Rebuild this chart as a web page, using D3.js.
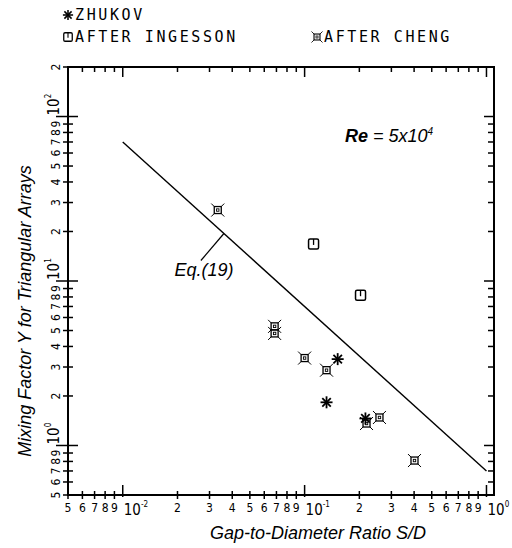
<!DOCTYPE html>
<html>
<head>
<meta charset="utf-8">
<script src="https://cdn.jsdelivr.net/npm/d3@7"></script>
<style>
  body { margin: 0; background: #fff; }
  svg { display: block; }
  .tk { font-family: "DejaVu Sans Condensed", "DejaVu Sans", sans-serif; font-size: 12px; fill: #000; }
  .legend { font-family: "DejaVu Sans Mono", monospace; font-size: 15px; letter-spacing: 2.6px; fill: #000; }
  .title { font-family: "Liberation Sans", Arial, sans-serif; font-style: italic; font-size: 18px; fill: #000; }
</style>
</head>
<body>
<div id="chart"></div>
<script>
// Данные (S/D, Y)
const zhukovS = [0.152, 0.132, 0.216];
const zhukovY = [3.35, 1.83, 1.46];
const ingessonS = [0.112, 0.203];
const ingessonY = [16.8, 8.2];
const chengS = [0.0333, 0.0684, 0.0684, 0.100, 0.132, 0.219, 0.258, 0.402];
const chengY = [27.0, 5.3, 4.8, 3.4, 2.87, 1.36, 1.48, 0.81];
// Eq.(19): Y = 0.7 / (S/D)
const eqS = [0.01, 1.0];
const eqY = [70, 0.7];
const xDomain = [0.005, 1.1];
const yDomain = [0.5, 200];

const width = 512, height = 548;
const mLeft = 68, mRight = 494, mTop = 67, mBottom = 495;

const svg = d3.select("#chart").append("svg")
    .attr("width", width)
    .attr("height", height);

const x = d3.scaleLog().domain(xDomain).range([mLeft, mRight]);
const y = d3.scaleLog().domain(yDomain).range([mBottom, mTop]);

const mant = v => Math.round(v / Math.pow(10, Math.floor(Math.log10(v) + 1e-9)));
const isDecade = v => mant(v) === 1;
const expOf = v => Math.round(Math.log10(v));

const xt = x.ticks();
const yt = y.ticks();

const ax = svg.append("g").attr("stroke", "#000").attr("stroke-width", 1.5);

// Ticks: bottom (crossing), top (inward)
xt.forEach(v => {
    const px = x(v), big = isDecade(v);
    ax.append("line").attr("x1", px).attr("x2", px)
        .attr("y1", mBottom - (big ? 10 : 4)).attr("y2", mBottom + (big ? 2 : 4));
    ax.append("line").attr("x1", px).attr("x2", px)
        .attr("y1", mTop).attr("y2", mTop + (big ? 10 : 5));
});
// Ticks: left (crossing), right (inward)
yt.forEach(v => {
    const py = y(v), big = isDecade(v);
    ax.append("line").attr("y1", py).attr("y2", py)
        .attr("x1", mLeft - (big ? 12 : 5)).attr("x2", mLeft + (big ? 10 : 5));
    ax.append("line").attr("y1", py).attr("y2", py)
        .attr("x1", mRight - (big ? 10 : 6)).attr("x2", mRight);
});

// Frame
svg.append("rect")
    .attr("x", mLeft).attr("y", mTop)
    .attr("width", mRight - mLeft).attr("height", mBottom - mTop)
    .attr("fill", "none").attr("stroke", "#000").attr("stroke-width", 2);

// Bottom tick labels
const xl = svg.append("g").attr("class", "tk");
xt.forEach(v => {
    const px = x(v);
    if (isDecade(v)) {
        const t = xl.append("text").attr("x", px + 1).attr("y", 515)
            .attr("font-size", 15);
        t.append("tspan").text("10");
        t.append("tspan").attr("font-size", 8).attr("dy", -8).text(expOf(v));
    } else {
        xl.append("text").attr("x", px).attr("y", 512)
            .attr("text-anchor", "middle").text(mant(v));
    }
});

// Left tick labels (rotated)
const yl = svg.append("g").attr("class", "tk");
yt.forEach(v => {
    const py = y(v);
    if (isDecade(v)) {
        const t = yl.append("text")
            .attr("transform", `translate(59,${py - 1}) rotate(-90)`)
            .attr("font-size", 15);
        t.append("tspan").text("10");
        t.append("tspan").attr("font-size", 8).attr("dy", -8).text(expOf(v));
    } else {
        yl.append("text")
            .attr("transform", `translate(60,${py}) rotate(-90)`)
            .attr("text-anchor", "middle").text(mant(v));
    }
});

// Eq.(19) line
const eqData = eqS.map((s, i) => ({ s, y: eqY[i] }));
const line = d3.line().x(d => x(d.s)).y(d => y(d.y));
svg.append("path").datum(eqData)
    .attr("d", line)
    .attr("fill", "none").attr("stroke", "#000").attr("stroke-width", 1.4);

// Leader and label for Eq.(19)
const ls = 0.036, lx = x(ls), ly = y(0.7 / ls);
svg.append("line").attr("x1", lx).attr("y1", ly).attr("x2", lx - 23).attr("y2", ly + 27)
    .attr("stroke", "#000").attr("stroke-width", 1.2);
svg.append("text").attr("class", "title").attr("x", lx - 20).attr("y", ly + 43)
    .attr("text-anchor", "middle").attr("font-size", 16).text("Eq.(19)");

// Re label
const re = svg.append("text").attr("class", "title").attr("x", 345).attr("y", 142)
    .attr("font-size", 17);
re.append("tspan").attr("font-weight", "bold").text("Re");
re.append("tspan").text(" = 5x10");
re.append("tspan").attr("font-size", 10).attr("dy", -7).text("4");

// Markers
function drawZhukov(g) {
    [0, 45, 90, 135].forEach(a => {
        const r = 6, c = Math.cos(a * Math.PI / 180) * r, s = Math.sin(a * Math.PI / 180) * r;
        g.append("line").attr("x1", -c).attr("y1", -s).attr("x2", c).attr("y2", s)
            .attr("stroke", "#000").attr("stroke-width", 1.8);
    });
}
function drawIngesson(g) {
    g.append("rect").attr("x", -5).attr("y", -5).attr("width", 10).attr("height", 10)
        .attr("rx", 1.5).attr("fill", "#fff").attr("stroke", "#000").attr("stroke-width", 1.5);
    g.append("line").attr("x1", 0).attr("y1", -5).attr("x2", 0).attr("y2", 1)
        .attr("stroke", "#000").attr("stroke-width", 1.3);
}
function drawCheng(g) {
    g.append("rect").attr("x", -3.5).attr("y", -3.5).attr("width", 7).attr("height", 7)
        .attr("fill", "none").attr("stroke", "#000").attr("stroke-width", 1.3);
    g.append("rect").attr("x", -1.2).attr("y", -1.2).attr("width", 2.4).attr("height", 2.4)
        .attr("fill", "none").attr("stroke", "#000").attr("stroke-width", 0.9);
    [[-1, -1], [1, -1], [1, 1], [-1, 1]].forEach(([sx, sy]) => {
        g.append("line").attr("x1", sx * 3.5).attr("y1", sy * 3.5)
            .attr("x2", sx * 6.5).attr("y2", sy * 6.5)
            .attr("stroke", "#000").attr("stroke-width", 1);
    });
}

function plotSeries(sArr, yArr, draw) {
    const data = sArr.map((s, i) => ({ s, y: yArr[i] }));
    svg.append("g").selectAll("g").data(data).enter().append("g")
        .attr("transform", d => `translate(${x(d.s)},${y(d.y)})`)
        .each(function () { draw(d3.select(this)); });
}
plotSeries(chengS, chengY, drawCheng);
plotSeries(ingessonS, ingessonY, drawIngesson);
plotSeries(zhukovS, zhukovY, drawZhukov);

// Legend
const legend = [
    { label: "ZHUKOV", draw: drawZhukov, x: 68, y: 20 },
    { label: "AFTER INGESSON", draw: drawIngesson, x: 68, y: 42 },
    { label: "AFTER CHENG", draw: drawCheng, x: 317, y: 42 }
];
legend.forEach(l => {
    const g = svg.append("g").attr("transform", `translate(${l.x},${l.y - 5})`);
    const m = g.append("g").attr("transform", "scale(0.85)");
    l.draw(m);
    svg.append("text").attr("class", "legend").attr("x", l.x + 7).attr("y", l.y).text(l.label);
});

// Axis titles
svg.append("text").attr("class", "title")
    .attr("x", 318).attr("y", 539).attr("text-anchor", "middle")
    .text("Gap-to-Diameter Ratio S/D");
svg.append("text").attr("class", "title")
    .attr("transform", "translate(31,311) rotate(-90)")
    .attr("text-anchor", "middle").attr("font-size", 19)
    .text("Mixing Factor Y for Triangular Arrays");
</script>
</body>
</html>
